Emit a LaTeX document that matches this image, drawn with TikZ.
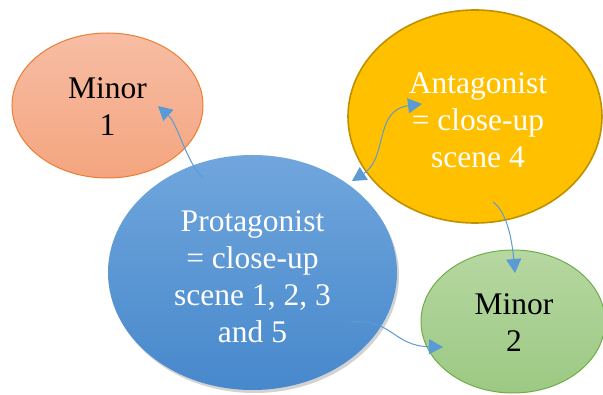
\documentclass[tikz,border=0pt]{standalone}
\usepackage{fontspec}
\setmainfont{Liberation Serif}
\usetikzlibrary{shapes.geometric,arrows.meta,shadows}
\definecolor{arrblue}{HTML}{5B9BD5}
\definecolor{orangeline}{HTML}{ED7D31}
\definecolor{salmontop}{HTML}{F7BDA4}
\definecolor{salmonbot}{HTML}{F4A57F}
\definecolor{goldfill}{HTML}{FFC000}
\definecolor{goldline}{HTML}{BF9000}
\definecolor{bluetop}{HTML}{70A6DC}
\definecolor{bluebot}{HTML}{4788CC}
\definecolor{greentop}{HTML}{B6D7A1}
\definecolor{greenbot}{HTML}{9CC983}
\definecolor{greenline}{HTML}{70AD47}
\tikzset{
  bubble/.style={ellipse, inner sep=0pt},
  btext/.style={align=center, inner sep=0pt,
    font=\fontsize{31.5}{37}\selectfont},
  arr/.style={draw=arrblue, line width=1pt,
    -{Triangle[length=14pt,width=15pt]}},
  darr/.style={draw=arrblue, line width=1pt,
    {Triangle[length=14pt,width=15pt]}-{Triangle[length=14pt,width=15pt]}}
}
\begin{document}
\begin{tikzpicture}[x=1pt,y=-1pt]
\useasboundingbox (0,0) rectangle (603,395);
\fill[white] (0,0) rectangle (603,395);
% ellipses
\node[bubble, minimum width=191pt, minimum height=145pt,
  draw=orangeline, line width=1pt, top color=salmontop, bottom color=salmonbot]
  (m1) at (107.5,105.5) {};
\node[btext] (m1t) at (107.5,107) {Minor\\1};
\node[bubble, minimum width=254pt, minimum height=213pt,
  draw=goldline, line width=1.6pt, fill=goldfill]
  (ant) at (475,116.5) {};
\node[btext, text=white] (antt) at (478,120) {Antagonist\\= close-up\\scene 4};
\node[bubble, minimum width=289pt, minimum height=235pt,
  top color=bluetop, bottom color=bluebot,
  drop shadow={opacity=0.35, shadow xshift=2pt, shadow yshift=-3pt}]
  (pro) at (252.5,272.5) {};
\node[btext, text=white] (prot) at (252.5,277) {Protagonist\\= close-up\\scene 1, 2, 3\\and 5};
\node[bubble, minimum width=184pt, minimum height=143pt,
  draw=greenline, line width=1pt, top color=greentop, bottom color=greenbot]
  (m2) at (513,321.5) {};
\node[btext] (m2t) at (514,322.5) {Minor\\2};
% connector end points
\coordinate (p1) at (203,178);
\coordinate (m1a) at (158,106);
\coordinate (p2) at (352,181);
\coordinate (a2) at (422,104);
\coordinate (a3) at (493,202);
\coordinate (m2a) at (515,273);
\coordinate (p4) at (350,322);
\coordinate (m2b) at (443,347);
% connectors
\draw[arr] (p1) .. controls (186,162) and (178,124) .. (m1a);
\draw[darr] (p2) .. controls (388,158) and (374,110) .. (a2);
\draw[arr] (a3) .. controls (507,212) and (512,240) .. (m2a);
\draw[arr] (p4) .. controls (392,318) and (393,346) .. (m2b);
\end{tikzpicture}
\end{document}
